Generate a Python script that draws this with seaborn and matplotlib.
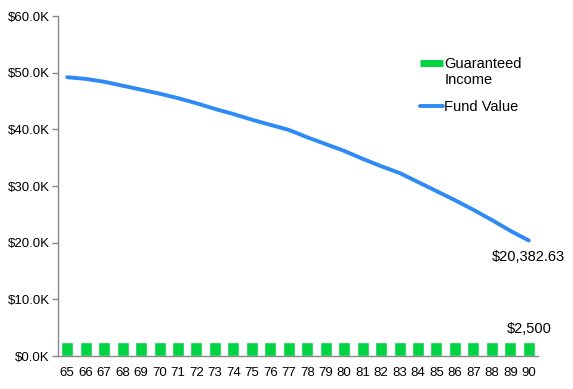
import matplotlib
matplotlib.use("Agg")
import matplotlib.pyplot as plt
import seaborn as sns
import pandas as pd
import numpy as np
from matplotlib.lines import Line2D
from matplotlib.legend_handler import HandlerLine2D
from matplotlib.ticker import FuncFormatter, MultipleLocator

ages = [str(a) for a in range(65, 91)]
guaranteed_income = [2500] * 26
fund_value = [49200, 48900, 48400, 47700, 47000, 46300, 45500, 44600, 43600, 42700,
              41700, 40800, 39900, 38600, 37400, 36200, 34800, 33500, 32300, 30700,
              29100, 27500, 25800, 24000, 22100, 20382.63]

df = pd.DataFrame({"age": ages, "income": guaranteed_income, "fund": fund_value})

sns.set_style("white")
plt.rcParams["font.family"] = ["Liberation Sans", "DejaVu Sans"]
plt.rcParams["text.color"] = "black"
plt.rcParams["xtick.color"] = "black"
plt.rcParams["ytick.color"] = "black"

fig = plt.figure(figsize=(5.73, 3.89), dpi=100)
ax = fig.add_axes([58/573, 33/389, 480/573, 340/389])

green = "#00D443"
blue = "#2E8BF5"

sns.barplot(data=df, x="age", y="income", color=green, width=0.65,
            saturation=1, ax=ax, zorder=2)
sns.lineplot(data=df, x="age", y="fund", color=blue, linewidth=2.8,
             ax=ax, sort=False, zorder=3, solid_capstyle="round")

ax.set_xlim(-0.5, 25.5)
ax.set_ylim(0, 60000)
ax.yaxis.set_major_locator(MultipleLocator(10000))
ax.yaxis.set_major_formatter(FuncFormatter(lambda v, p: f"${v/1000:.1f}K"))
ax.set_xlabel("")
ax.set_ylabel("")

for s in ["top", "right"]:
    ax.spines[s].set_visible(False)
for s in ["left", "bottom"]:
    ax.spines[s].set_color("#888888")
    ax.spines[s].set_linewidth(1.0)

# bottom ticks at category boundaries
ax.set_xticks(np.arange(-0.5, 26, 1), minor=True)
ax.tick_params(axis="x", which="minor", length=4, color="#888888", width=1)
ax.tick_params(axis="x", which="major", length=0, labelsize=9.5, pad=8,
               labelcolor="black")
ax.tick_params(axis="y", which="major", length=4, color="#888888", width=1,
               labelsize=9.5, pad=2, left=True, labelcolor="black")

ax.annotate(f"${fund_value[-1]:,.2f}", xy=(25, fund_value[-1]), xytext=(0, -12),
            textcoords="offset points", ha="center", va="center", fontsize=10.5,
            color="black")
ax.annotate(f"${guaranteed_income[-1]:,}", xy=(25, guaranteed_income[-1]), xytext=(0, 9),
            textcoords="offset points", ha="center", va="center", fontsize=10.5,
            color="black")


class HandlerTop(HandlerLine2D):
    def __init__(self, shift=0, **kw):
        super().__init__(**kw)
        self.shift = shift

    def create_artists(self, legend, orig_handle, xdescent, ydescent, width,
                       height, fontsize, trans):
        arts = super().create_artists(legend, orig_handle, xdescent, ydescent,
                                      width, height, fontsize, trans)
        for a in arts:
            y = a.get_ydata()
            a.set_ydata(np.asarray(y) + self.shift)
        return arts


h_income = Line2D([0], [0], color=green, linewidth=5, solid_capstyle="butt")
h_fund = Line2D([0], [0], color=blue, linewidth=2.8, solid_capstyle="round")
fig.legend([h_income, h_fund], ["Guaranteed\nIncome", "Fund Value"], loc="upper left",
           bbox_to_anchor=(407/573, 1 - 44/389), frameon=False, fontsize=10.5,
           handlelength=1.6, handletextpad=0.05, labelspacing=0.9,
           labelcolor="black",
           handler_map={h_income: HandlerTop(shift=7.0)})

fig.savefig("out.png", dpi=100)
